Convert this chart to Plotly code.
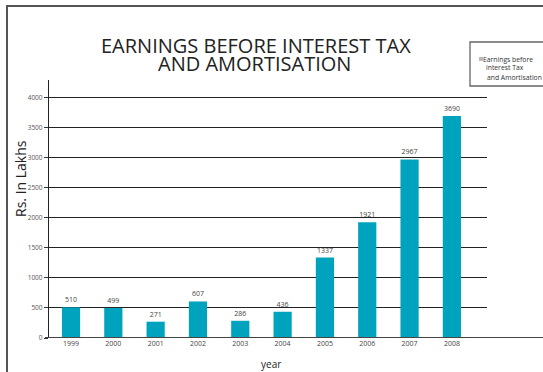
import plotly.graph_objects as go

# Chart data
years = ["1999", "2000", "2001", "2002", "2003", "2004", "2005", "2006", "2007", "2008"]
ebita = [510, 499, 271, 607, 286, 436, 1337, 1921, 2967, 3690]
y_ticks = [0, 500, 1000, 1500, 2000, 2500, 3000, 3500, 4000]
legend_lines = ["Earnings before", "interest Tax", "and Amortisation"]

W, H = 543, 372
PL, PR, PT, PB = 49, 487, 80, 338  # plot area in pixels


def px(x):
    return (x - PL) / (PR - PL)


def py(y):
    return (PB - y) / (PB - PT)


FONT = "Open Sans"
BAR = "#00A3BE"

fig = go.Figure(
    go.Bar(
        x=years,
        y=ebita,
        width=0.43,
        marker=dict(color=BAR, line=dict(width=0)),
        text=[str(v) for v in ebita],
        textposition="outside",
        textfont=dict(family=FONT, size=7, color="#444"),
        cliponaxis=False,
        name="Earnings before interest Tax and Amortisation",
        showlegend=False,
    )
)

shapes = [
    # outer frame (left and top edges)
    dict(type="line", xref="paper", yref="paper", x0=px(7), x1=px(7), y0=py(6), y1=py(380),
         line=dict(color="#555", width=2)),
    dict(type="line", xref="paper", yref="paper", x0=px(6), x1=px(550), y0=py(6), y1=py(6),
         line=dict(color="#555", width=2)),
    # baseline running out to the right edge
    dict(type="line", xref="paper", yref="y", x0=px(45), x1=px(550), y0=0, y1=0,
         line=dict(color="#444", width=2)),
    # legend box
    dict(type="rect", xref="paper", yref="paper", x0=px(470), x1=px(548), y0=py(42), y1=py(86),
         line=dict(color="#666", width=1.3), fillcolor="rgba(0,0,0,0)"),
    # legend swatch
    dict(type="rect", xref="paper", yref="paper", x0=px(479), x1=px(483), y0=py(57), y1=py(61),
         line=dict(width=0), fillcolor="#bbbbbb"),
]

annotations = [
    dict(text="EARNINGS BEFORE INTEREST TAX", x=px(256), y=py(45.5), xref="paper", yref="paper",
         showarrow=False, xanchor="center", yanchor="middle",
         font=dict(family=FONT, size=20, color="#222")),
    dict(text="AND AMORTISATION", x=px(254), y=py(63), xref="paper", yref="paper",
         showarrow=False, xanchor="center", yanchor="middle",
         font=dict(family=FONT, size=20, color="#222")),
    dict(text="Rs. In Lakhs", x=px(20), y=py(179), xref="paper", yref="paper", textangle=-90,
         showarrow=False, xanchor="center", yanchor="middle",
         font=dict(family=FONT, size=14, color="#222")),
    dict(text="year", x=px(271), y=py(364), xref="paper", yref="paper",
         showarrow=False, xanchor="center", yanchor="middle",
         font=dict(family=FONT, size=10, color="#222")),
]

for line, lx, ly in zip(legend_lines, [482, 485, 486], [59, 68, 77]):
    annotations.append(dict(text=line, x=px(lx), y=py(ly), xref="paper", yref="paper",
                            showarrow=False, xanchor="left", yanchor="middle", borderpad=0,
                            font=dict(family=FONT, size=6.8, color="#333")))

fig.update_layout(
    width=W, height=H,
    margin=dict(l=PL, r=W - PR, t=PT, b=H - PB, pad=0),
    paper_bgcolor="white", plot_bgcolor="white",
    shapes=shapes, annotations=annotations,
    showlegend=False,
    xaxis=dict(
        type="category", range=[-0.52, 9.83], showgrid=False, zeroline=False,
        showline=False, ticks="", tickfont=dict(family=FONT, size=7, color="#444"),
    ),
    yaxis=dict(
        range=[0, 4286], tickvals=y_ticks, showgrid=True, gridcolor="#222", gridwidth=1.2,
        zeroline=False, showline=True, linecolor="#222", linewidth=1.3,
        ticks="outside", ticklen=4, tickcolor="#333", tickwidth=1,
        tickfont=dict(family=FONT, size=6.5, color="#555"),
    ),
)

fig.write_html("out.html")
